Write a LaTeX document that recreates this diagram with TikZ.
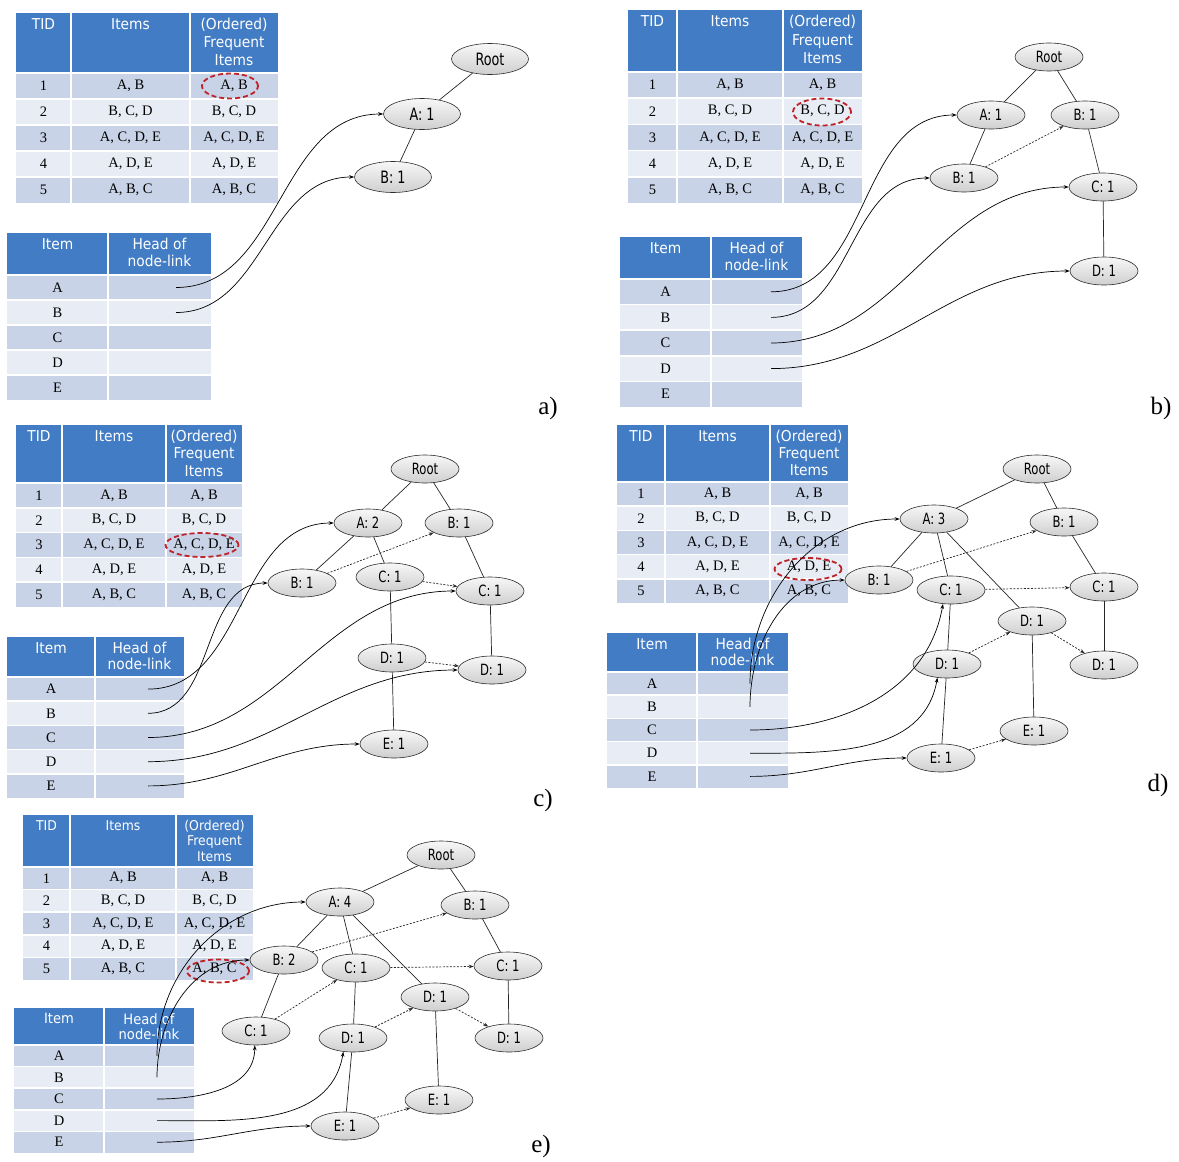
\documentclass[tikz,border=0pt]{standalone}
\usepackage{fontspec}
\setmainfont{Liberation Serif}
\newfontfamily\judulfont[FakeStretch=0.92]{DejaVu Sans}
\newfontfamily\simpulfont[FakeStretch=0.75]{DejaVu Sans}
\usetikzlibrary{shapes.geometric,arrows.meta}

\definecolor{biru}{RGB}{66,124,196}
\definecolor{barisganjil}{RGB}{200,211,231}
\definecolor{barisgenap}{RGB}{231,236,245}
\definecolor{merah}{RGB}{190,35,40}

% Tabel transaksi: awalan, kiri, atas, kolom1, kolom2, kanan, batas judul, bawah
\newcommand{\tabeltid}[8]{%
  \fill[biru] (#2,#3) rectangle (#6,#7);
  \pgfmathsetmacro{\tinggi}{(#8-#7)/5}
  \pgfmathsetmacro{\jarak}{(#7-#3-6)/3}
  \pgfmathsetmacro{\ukuran}{min(15,\jarak*0.88)}
  \foreach \i/\isi in {1/{A, B},2/{B, C, D},3/{A, C, D, E},4/{A, D, E},5/{A, B, C}}{
    \pgfmathsetmacro{\ya}{#7+(\i-1)*\tinggi}
    \pgfmathsetmacro{\yb}{#7+\i*\tinggi}
    \pgfmathsetmacro{\ym}{#7+(\i-0.5)*\tinggi}
    \ifodd\i\relax\def\warna{barisganjil}\else\def\warna{barisgenap}\fi
    \fill[\warna] (#2,\ya) rectangle (#6,\yb);
    \node[sel] (#1n\i) at ({(#2+#4)/2},\ym) {\i};
    \node[sel] (#1s\i) at ({(#4+#5)/2},\ym) {\isi};
    \node[sel] (#1f\i) at ({(#5+#6)/2},\ym) {\isi};
  }
  \foreach \i in {0,...,4}
    {\draw[pemisah] (#2,{#7+\i*\tinggi}) -- (#6,{#7+\i*\tinggi});}
  \draw[pemisah] (#4,#3) -- (#4,#8) (#5,#3) -- (#5,#8);
  \node[judul] (#1jt) at ({(#2+#4)/2},#3+3) {TID};
  \node[judul] (#1js) at ({(#4+#5)/2},#3+3) {Items};
  \node[judul] (#1jf) at ({(#5+#6)/2},#3+3) {(Ordered)\\Frequent\\Items};
}

% Tabel header: awalan, kiri, atas, kolom, kanan, batas judul, bawah, x awal panah
\newcommand{\tabelitem}[8]{%
  \fill[biru] (#2,#3) rectangle (#5,#6);
  \pgfmathsetmacro{\tinggi}{(#7-#6)/5}
  \pgfmathsetmacro{\jarak}{(#6-#3-4)/2.2}
  \pgfmathsetmacro{\ukuran}{min(15,\jarak*0.95)}
  \foreach \i/\hrf in {1/A,2/B,3/C,4/D,5/E}{
    \pgfmathsetmacro{\ya}{#6+(\i-1)*\tinggi}
    \pgfmathsetmacro{\yb}{#6+\i*\tinggi}
    \pgfmathsetmacro{\ym}{#6+(\i-0.5)*\tinggi}
    \ifodd\i\relax\def\warna{barisganjil}\else\def\warna{barisgenap}\fi
    \fill[\warna] (#2,\ya) rectangle (#5,\yb);
    \node[sel] (#1i\hrf) at ({(#2+#4)/2},\ym) {\hrf};
    \coordinate (#1h\hrf) at (#8,\ym);
  }
  \foreach \i in {0,...,4}
    {\draw[pemisah] (#2,{#6+\i*\tinggi}) -- (#5,{#6+\i*\tinggi});}
  \draw[pemisah] (#4,#3) -- (#4,#7);
  \node[judul] (#1ji) at ({(#2+#4)/2},#3+3) {Item};
  \node[judul] (#1jh) at ({(#4+#5)/2},#3+3) {Head of\\node-link};
}

\begin{document}
\begin{tikzpicture}[x=1pt,y=-1pt,>={Stealth[length=5pt,width=3.6pt]},
    judul/.style={anchor=north,align=center,text=white,inner sep=2pt,
      font=\judulfont\fontsize{\ukuran}{\jarak}\selectfont},
    sel/.style={inner sep=0pt,font=\fontsize{14.5}{17}\selectfont},
    pemisah/.style={white,line width=1.5pt},
    simpul/.style={ellipse,draw=gray!35!black,line width=0.6pt,
      top color=gray!6,bottom color=gray!38,inner sep=0pt,
      minimum width=68pt,minimum height=28pt,
      font=\simpulfont\fontsize{15.5}{18}\selectfont},
    besar/.style={minimum width=77pt,minimum height=31pt,
      font=\simpulfont\fontsize{17}{20}\selectfont},
    sorot/.style={ellipse,draw=merah,line width=1.8pt,
      dash pattern=on 5pt off 3pt,inner sep=0pt},
    garis/.style={gray!30!black,line width=0.7pt},
    titik/.style={->,gray!30!black,line width=0.7pt,
      dash pattern=on 2pt off 1.5pt},
    pn/.style={->,line width=0.7pt},
    penanda/.style={inner sep=0pt,font=\fontsize{25}{29}\selectfont}]

  \useasboundingbox (0,0) rectangle (1179,1162);

  % ---------------- a) ----------------
  \tabeltid{a}{16}{13}{71}{190}{278}{73}{203}
  \tabelitem{a}{7}{233}{108}{211}{275}{400}{176}
  \node[sorot,minimum width=56pt,minimum height=25pt] (aSorot) at (230,86) {};

  \node[simpul,besar] (aRoot) at (490,59) {Root};
  \node[simpul,besar] (aA) at (422,114) {A: 1};
  \node[simpul,besar] (aAB) at (393,177) {B: 1};
  \foreach \a/\b in {aRoot/aA, aA/aAB}
    {\draw[garis] (\a) -- (\b);}
  \draw[pn] (ahA) to[out=0,in=180] (aA.west);
  \draw[pn] (ahB) to[out=0,in=180] (aAB.west);
  \node[penanda] (la) at (548,408) {a)};

  % ---------------- b) ----------------
  \tabeltid{b}{628}{10}{677}{783}{862}{72}{203}
  \tabelitem{b}{620}{237}{711}{802}{279}{407}{771}
  \node[sorot,minimum width=58pt,minimum height=27pt] (bSorot) at (822,112) {};

  \node[simpul] (bRoot) at (1049,57) {Root};
  \node[simpul] (bA) at (991,115) {A: 1};
  \node[simpul] (bB) at (1085,115) {B: 1};
  \node[simpul] (bAB) at (964,178) {B: 1};
  \node[simpul] (bBC) at (1103,187) {C: 1};
  \node[simpul] (bBCD) at (1104,271) {D: 1};
  \foreach \a/\b in {bRoot/bA, bRoot/bB, bA/bAB, bB/bBC, bBC/bBCD}
    {\draw[garis] (\a) -- (\b);}
  \draw[titik] (bAB) -- (bB);
  \draw[pn] (bhA) to[out=0,in=180] (bA.west);
  \draw[pn] (bhB) to[out=0,in=180] (bAB.west);
  \draw[pn] (bhC) to[out=0,in=180] (bBC.west);
  \draw[pn] (bhD) to[out=0,in=180] (bBCD.west);
  \node[penanda] (lb) at (1161,408) {b)};

  % ---------------- c) ----------------
  \tabeltid{c}{16}{425}{62}{166}{242}{483}{607}
  \tabelitem{c}{7}{637}{95}{184}{677}{798}{148}
  \node[sorot,minimum width=73pt,minimum height=24pt] (cSorot) at (202,545) {};

  \node[simpul] (cRoot) at (425,469) {Root};
  \node[simpul] (cA) at (368,523) {A: 2};
  \node[simpul] (cB) at (459,523) {B: 1};
  \node[simpul] (cAB) at (302,583) {B: 1};
  \node[simpul] (cAC) at (390,577) {C: 1};
  \node[simpul] (cBC) at (490,591) {C: 1};
  \node[simpul] (cACD) at (392,658) {D: 1};
  \node[simpul] (cBCD) at (492,670) {D: 1};
  \node[simpul] (cACDE) at (394,744) {E: 1};
  \foreach \a/\b in {cRoot/cA, cRoot/cB, cA/cAB, cA/cAC, cAC/cACD,
      cACD/cACDE, cB/cBC, cBC/cBCD}
    {\draw[garis] (\a) -- (\b);}
  \foreach \a/\b in {cAB/cB, cAC/cBC, cACD/cBCD}
    {\draw[titik] (\a) -- (\b);}
  \draw[pn] (chA) to[out=0,in=180] (cA.west);
  \draw[pn] (chB) to[out=0,in=180] (cAB.west);
  \draw[pn] (chC) to[out=0,in=180] (cBC.west);
  \draw[pn] (chD) to[out=0,in=180] (cBCD.west);
  \draw[pn] (chE) to[out=0,in=180] (cACDE.west);
  \node[penanda] (lc) at (543,800) {c)};

  % ---------------- d) ----------------
  \tabeltid{d}{617}{425}{665}{770}{848}{482}{603}
  \tabelitem{d}{607}{633}{697}{788}{672}{788}{750}
  \node[sorot,minimum width=67pt,minimum height=22pt] (dSorot) at (808,569) {};

  \node[simpul] (dRoot) at (1037,469) {Root};
  \node[simpul] (dA) at (934,519) {A: 3};
  \node[simpul] (dB) at (1064,522) {B: 1};
  \node[simpul] (dAB) at (879,580) {B: 1};
  \node[simpul] (dAC) at (951,590) {C: 1};
  \node[simpul] (dBC) at (1104,587) {C: 1};
  \node[simpul] (dAD) at (1032,621) {D: 1};
  \node[simpul] (dACD) at (947,664) {D: 1};
  \node[simpul] (dBCD) at (1104,665) {D: 1};
  \node[simpul] (dADE) at (1034,731) {E: 1};
  \node[simpul] (dACDE) at (941,758) {E: 1};
  \foreach \a/\b in {dRoot/dA, dRoot/dB, dA/dAB, dA/dAC, dA/dAD, dAC/dACD,
      dACD/dACDE, dAD/dADE, dB/dBC, dBC/dBCD}
    {\draw[garis] (\a) -- (\b);}
  \foreach \a/\b in {dAB/dB, dAC/dBC, dACD/dAD, dAD/dBCD, dACDE/dADE}
    {\draw[titik] (\a) -- (\b);}
  \draw[pn] (dhA) to[out=90,in=180] (dA.west);
  \draw[pn] (dhB) to[out=90,in=180] (dAB.west);
  \draw[pn] (dhC) to[out=0,in=-100] (dAC.240);
  \draw[pn] (dhD) to[out=0,in=-100] (dACD.235);
  \draw[pn] (dhE) to[out=0,in=180] (dACDE.west);
  \node[penanda] (ld) at (1158,785) {d)};

  % ---------------- e) ----------------
  \tabeltid{e}{23}{815}{70}{176}{253}{867}{980}
  \tabelitem{e}{14}{1008}{104}{194}{1045}{1153}{157}
  \node[sorot,minimum width=62pt,minimum height=23pt] (eSorot) at (218,971) {};

  \node[simpul] (eRoot) at (441,855) {Root};
  \node[simpul] (eA) at (340,902) {A: 4};
  \node[simpul] (eB) at (475,905) {B: 1};
  \node[simpul] (eAB) at (284,960) {B: 2};
  \node[simpul] (eAC) at (356,968) {C: 1};
  \node[simpul] (eBC) at (508,966) {C: 1};
  \node[simpul] (eAD) at (435,997) {D: 1};
  \node[simpul] (eABC) at (256,1031) {C: 1};
  \node[simpul] (eACD) at (353,1038) {D: 1};
  \node[simpul] (eBCD) at (509,1038) {D: 1};
  \node[simpul] (eADE) at (439,1100) {E: 1};
  \node[simpul] (eACDE) at (345,1126) {E: 1};
  \foreach \a/\b in {eRoot/eA, eRoot/eB, eA/eAB, eA/eAC, eA/eAD, eAB/eABC,
      eAC/eACD, eACD/eACDE, eAD/eADE, eB/eBC, eBC/eBCD}
    {\draw[garis] (\a) -- (\b);}
  \foreach \a/\b in {eAB/eB, eABC/eAC, eAC/eBC, eACD/eAD, eAD/eBCD, eACDE/eADE}
    {\draw[titik] (\a) -- (\b);}
  \draw[pn] (ehA) to[out=90,in=180] (eA.west);
  \draw[pn] (ehB) to[out=90,in=180] (eAB.west);
  \draw[pn] (ehC) to[out=0,in=-90] (eABC.265);
  \draw[pn] (ehD) to[out=0,in=-100] (eACD.235);
  \draw[pn] (ehE) to[out=0,in=180] (eACDE.west);
  \node[penanda] (le) at (541,1146) {e)};
\end{tikzpicture}
\end{document}
